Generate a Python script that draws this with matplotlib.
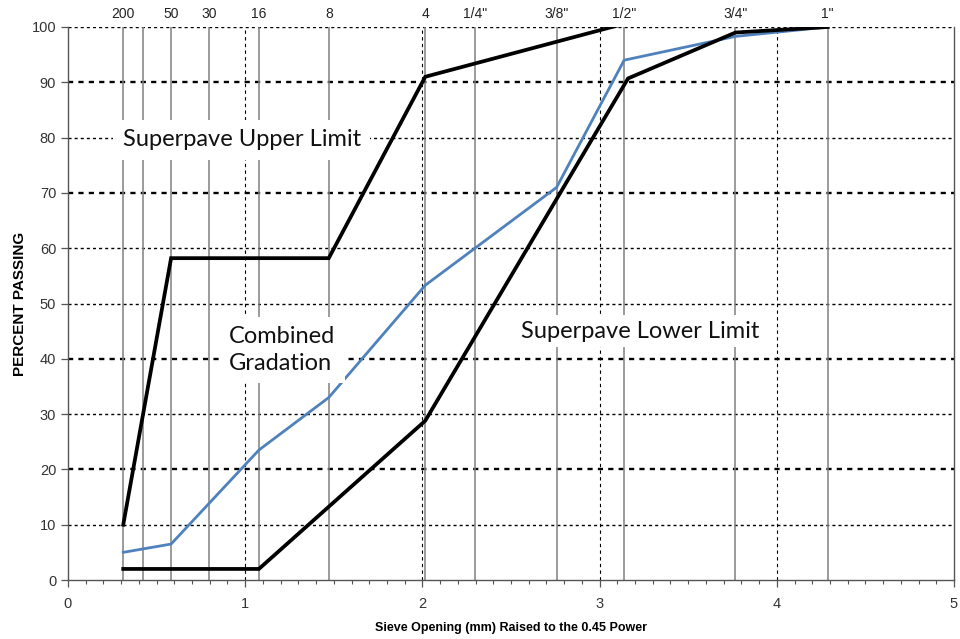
import matplotlib.pyplot as plt
from matplotlib.ticker import MultipleLocator
import numpy as np

# sieve openings (mm) and the names printed along the top
sieve_mm = [0.075, 0.15, 0.3, 0.6, 1.18, 2.36, 4.75, 6.35, 9.525, 12.7, 19.05, 25.4]
sieve_labels = ['200', '', '50', '30', '16', '8', '4', '1/4"', '3/8"', '1/2"', '3/4"', '1"']

# Superpave limits
upper_mm = [0.075, 0.3, 2.36, 4.75, 12.5, 25.4]
upper_pass = [10, 58.2, 58.2, 91, 100.4, 100.4]
lower_mm = [0.075, 1.18, 4.75, 12.9, 19.05, 25.4]
lower_pass = [2, 2, 28.8, 90.7, 99, 100]

# combined gradation of the blend
blend_mm = [0.075, 0.3, 1.18, 2.36, 4.75, 9.525, 12.7, 19.05, 25.4]
blend_pass = [5, 6.5, 23.5, 33, 53.3, 71, 94, 98.3, 100]

grid_y = [10, 20, 30, 40, 50, 60, 70, 80, 90, 100]
heavy_grid = [20, 40, 70, 90]


def p45(mm):
    return np.power(np.asarray(mm, dtype=float), 0.45)


fig = plt.figure(figsize=(9.6, 6.39), dpi=100)
ax = fig.add_axes([68 / 960, 59 / 639, 886 / 960, 553 / 639])
ax.set_xlim(0, 5)
ax.set_ylim(0, 100)

# grid: dotted horizontals, grey sieve lines, dashed integer verticals
for y in grid_y:
    lw = 1.7 if y in heavy_grid else 1.0
    ax.axhline(y, color='black', lw=lw, ls=(0, (2.2, 2.2)), zorder=1)
for xs in p45(sieve_mm):
    ax.axvline(xs, color='#808080', lw=1.1, zorder=1)
for xv in [1, 2, 3, 4]:
    ax.axvline(xv, color='black', lw=0.8, ls=(0, (3, 3)), zorder=1)

ax.plot(p45(blend_mm), blend_pass, color='#4F81BD', lw=2.0, zorder=3)
ax.plot(p45(upper_mm), upper_pass, color='black', lw=2.7, zorder=6,
        solid_joinstyle='miter')
ax.plot(p45(lower_mm), lower_pass, color='black', lw=2.7, zorder=6,
        solid_joinstyle='miter')

for xs, lab in zip(p45(sieve_mm), sieve_labels):
    ax.text(xs, 101.0, lab, ha='center', va='bottom', fontsize=10,
            family='Liberation Sans', color='#222222')

note_font = dict(family=['Lato', 'DejaVu Sans'], fontsize=17, color='#111111', zorder=5)
ax.text(0.98, 79.6, 'Superpave Upper Limit', ha='center', va='center',
        bbox=dict(facecolor='white', edgecolor='none', pad=7), **note_font)
ax.text(1.21, 41.6, 'Combined\nGradation', ha='center', va='center',
        multialignment='left', linespacing=1.3,
        bbox=dict(facecolor='white', edgecolor='none', pad=7), **note_font)
ax.text(3.23, 45.0, 'Superpave Lower Limit', ha='center', va='center',
        bbox=dict(facecolor='white', edgecolor='none', pad=4), **note_font)

# axes and ticks
for side in ['left', 'bottom', 'right']:
    ax.spines[side].set_color('#555555')
    ax.spines[side].set_linewidth(1.0)
ax.spines['top'].set_visible(False)

ax.set_xticks(range(6))
ax.xaxis.set_minor_locator(MultipleLocator(0.1))
ax.set_yticks(range(0, 101, 10))
ax.tick_params(axis='both', which='major', direction='out', length=5,
               width=0.9, color='#555555', labelsize=10.5, labelcolor='#333333')
ax.tick_params(axis='x', which='minor', direction='out', length=3,
               width=0.8, color='#555555')
ax.tick_params(axis='x', which='major', pad=7)
for lab in ax.get_xticklabels() + ax.get_yticklabels():
    lab.set_family('Liberation Sans')

ax.set_xlabel('Sieve Opening (mm) Raised to the 0.45 Power', fontsize=9,
              fontweight='bold', family='Liberation Sans')
ax.set_ylabel('PERCENT PASSING', fontsize=11, fontweight='bold',
              family='Liberation Sans')
ax.xaxis.set_label_coords(0.5, -0.076)
ax.yaxis.set_label_coords(-0.046, 0.5)

fig.savefig('out.png', dpi=100)
